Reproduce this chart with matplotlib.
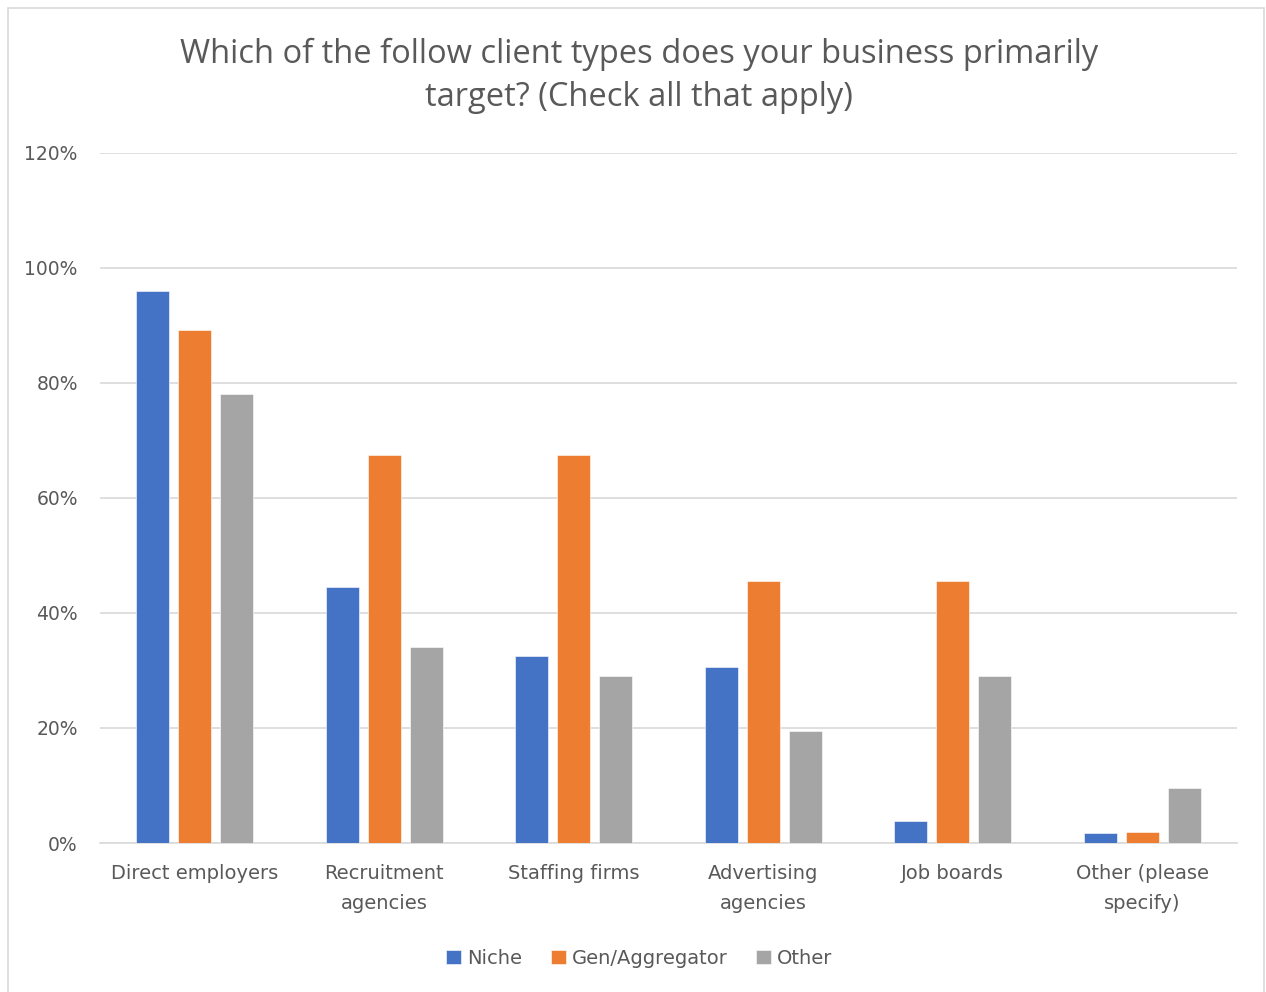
import numpy as np
import matplotlib; matplotlib.use("Agg"); import matplotlib.pyplot as plt
from matplotlib.patches import Rectangle
from matplotlib.ticker import PercentFormatter

categories = ["Direct employers", "Recruitment\nagencies", "Staffing firms",
              "Advertising\nagencies", "Job boards", "Other (please\nspecify)"]
niche = [96.0, 44.5, 32.6, 30.6, 3.8, 1.7]
gen_agg = [89.2, 67.4, 67.4, 45.6, 45.6, 2.0]
other = [78.0, 34.0, 29.1, 19.4, 29.1, 9.6]
series = [("Niche", niche, "#4472c4"), ("Gen/Aggregator", gen_agg, "#ed7d31"),
          ("Other", other, "#a5a5a5")]

fig = plt.figure(figsize=(12.66, 9.92), dpi=100)
ax = fig.add_axes([0.079, 0.1502, 0.898, 0.6956])
# light chart-area frame
fig.patches.append(Rectangle((8 / 1266, -0.01), 1256 / 1266, 1 - 8 / 992 + 0.01,
                             transform=fig.transFigure, fill=False,
                             ec="#d9d9d9", lw=1.2))

x = np.arange(len(categories))
w, step = 0.174, 0.222
for i, (name, vals, col) in enumerate(series):
    ax.bar(x + (i - 1) * step, vals, w, color=col, label=name, zorder=3,
           edgecolor="white", linewidth=0.4)

ax.set_xlim(-0.5, len(categories) - 0.5)
ax.set_ylim(0, 120)
ax.set_yticks(np.arange(0, 121, 20))
ax.yaxis.set_major_formatter(PercentFormatter(decimals=0))
ax.grid(axis="y", color="#d9d9d9", lw=1.2, zorder=0)
for s in ["top", "right", "left"]:
    ax.spines[s].set_visible(False)
ax.spines["bottom"].set_color("#d9d9d9"); ax.spines["bottom"].set_linewidth(1.2)
ax.set_xticks(x, categories)
ax.tick_params(axis="both", length=0, labelcolor="#595959")
ax.tick_params(axis="x", pad=15, labelsize=14)
ax.tick_params(axis="y", pad=16, labelsize=13.5)
for t in ax.get_xticklabels():
    t.set_linespacing(1.75)

fig.text(0.505, 0.924, "Which of the follow client types does your business primarily\n"
         "target? (Check all that apply)", ha="center", va="center",
         fontsize=23.5, color="#595959", family="Open Sans", linespacing=1.4)
fig.legend(loc="center", bbox_to_anchor=(0.505, 0.034), ncol=3, frameon=False,
           fontsize=14, handlelength=0.75, handleheight=0.75, handletextpad=0.3,
           columnspacing=1.5, labelcolor="#595959")

fig.savefig("out.png", dpi=100)
